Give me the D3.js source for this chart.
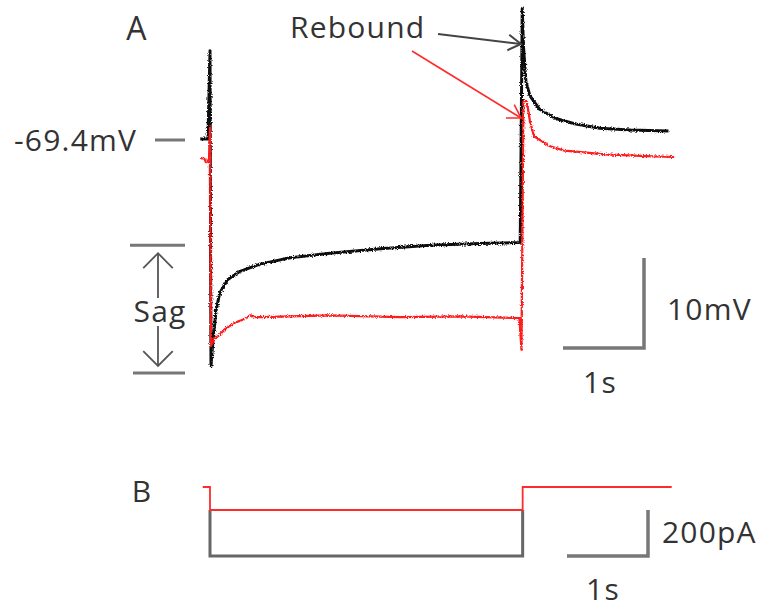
<!DOCTYPE html>
<html><head><meta charset="utf-8">
<script src="https://cdn.jsdelivr.net/npm/d3@7"></script>
<style>html,body{margin:0;padding:0;background:#fff}svg{display:block}</style>
</head><body>
<script>
// ---- Data (time in s relative to step onset, voltage in mV, current in pA) ----
const blackTime = [-0.12,-0.025,0.0,0.012,0.037,0.074,0.12,0.22,0.37,0.62,0.99,1.48,2.1,2.72,3.33,3.83,3.855,3.87,3.9,3.95,4.07,4.26,4.5,4.81,5.19,5.66];
const blackVm   = [-69.4,-69.4,-59.6,-94.6,-91.8,-88.5,-86.5,-85.0,-84.1,-83.3,-82.6,-82.1,-81.6,-81.2,-81.0,-80.9,-54.9,-59.1,-63.0,-64.6,-66.1,-67.1,-67.7,-68.2,-68.4,-68.5];
const redTime   = [-0.12,-0.07,-0.05,-0.03,-0.012,0.0,0.012,0.05,0.1,0.19,0.31,0.43,0.5,0.56,0.62,0.99,1.48,2.35,3.09,3.82,3.845,3.87,3.91,3.95,4.0,4.2,4.38,4.88,5.38,5.73];
const redVm     = [-71.5,-71.6,-72.0,-71.9,-71.6,-68.0,-92.4,-91.6,-91.3,-90.5,-89.8,-89.4,-89.0,-89.2,-89.2,-89.1,-89.0,-89.2,-89.1,-89.3,-92.8,-65.2,-65.2,-67.4,-69.1,-70.2,-70.7,-71.1,-71.3,-71.4];
const redCurTime   = [-0.09,0,0,3.86,3.86,5.7];
const redCurPA     = [0,0,-100,-100,0,0];
const blackCurTime = [0,0,3.86,3.86];
const blackCurPA   = [-100,-300,-300,-100];
const restLabel = "-69.4mV";
const restVm = -69.4;
const sagTopVm = -81.2, sagBottomVm = -95.4;
const scaleLabelsA = ["10mV","1s"];
const scaleLabelsB = ["200pA","1s"];

const W = 770, H = 613;
const svg = d3.select("body").append("svg").attr("width", W).attr("height", H);
const FONT = "'Open Sans', 'Noto Sans', sans-serif";
const TXT = "#333";

const defs = svg.append("defs");
const f = defs.append("filter").attr("id","noise").attr("x","-5%").attr("y","-5%").attr("width","110%").attr("height","110%");
f.append("feTurbulence").attr("type","fractalNoise").attr("baseFrequency","0.9").attr("numOctaves",2).attr("seed",3).attr("result","t");
f.append("feDisplacementMap").attr("in","SourceGraphic").attr("in2","t").attr("scale",3.5).attr("xChannelSelector","R").attr("yChannelSelector","G");

const x = d3.scaleLinear().domain([0, 1]).range([210, 291]);
const yA = d3.scaleLinear().domain([-69.4, -59.4]).range([139, 49]);
const yB = d3.scaleLinear().domain([0, -200]).range([487, 533]);

const lineA = d3.line().x(d => x(d[0])).y(d => yA(d[1]));
const lineB = d3.line().x(d => x(d[0])).y(d => yB(d[1]));

// Panel A traces
svg.append("path").datum(blackTime.map((t,i)=>[t,blackVm[i]]))
  .attr("d", lineA).attr("fill","none").attr("stroke","#111").attr("stroke-width",3)
  .attr("stroke-linejoin","round").attr("filter","url(#noise)");
svg.append("path").datum(redTime.map((t,i)=>[t,redVm[i]]))
  .attr("d", lineA).attr("fill","none").attr("stroke","#ff1a1a").attr("stroke-width",2.2)
  .attr("stroke-linejoin","round").attr("filter","url(#noise)");

// Labels
function txt(s, px, py, size, anchor){ return svg.append("text").text(s).attr("x",px).attr("y",py)
  .attr("font-family",FONT).attr("font-size",size).attr("fill",TXT).attr("letter-spacing","1.2px")
  .attr("text-anchor",anchor||"start"); }
txt("A", 137, 40, 32, "middle");
txt("B", 142, 502, 30, "middle");
txt(restLabel, 14, 151, 30);
svg.append("line").attr("x1",155).attr("x2",185).attr("y1",yA(restVm)+1).attr("y2",yA(restVm)+1).attr("stroke","#777").attr("stroke-width",3);

// Rebound label and arrows
function arrow(x1,y1,x2,y2,color,w,L,s){
  L = L||15; s = s||0.55;
  svg.append("line").attr("x1",x1).attr("y1",y1).attr("x2",x2).attr("y2",y2).attr("stroke",color).attr("stroke-width",w);
  const a = Math.atan2(y2-y1,x2-x1);
  const p = [[x2-L*Math.cos(a-s), y2-L*Math.sin(a-s)],[x2,y2],[x2-L*Math.cos(a+s), y2-L*Math.sin(a+s)]];
  svg.append("path").attr("d", d3.line()(p)).attr("fill","none").attr("stroke",color).attr("stroke-width",w);
}
txt("Rebound", 290, 38, 30);
arrow(438, 34, 521, 44, "#444", 2);
arrow(412, 51, 521, 118, "#ff2a2a", 1.6);

// Sag annotation
svg.append("line").attr("x1",130).attr("x2",185).attr("y1",yA(sagTopVm)).attr("y2",yA(sagTopVm)).attr("stroke","#777").attr("stroke-width",3);
svg.append("line").attr("x1",133).attr("x2",185).attr("y1",yA(sagBottomVm)).attr("y2",yA(sagBottomVm)).attr("stroke","#777").attr("stroke-width",3);
arrow(158, 298, 158, yA(sagTopVm)+8, "#555", 1.8, 21, 0.78);
arrow(158, 326, 158, yA(sagBottomVm)-7, "#555", 1.8, 21, 0.78);
txt("Sag", 160, 322, 30, "middle");

// Scale bar A
{
  const xr = 644, yb = 348, yt = yb - (yA(-69.4) - yA(-59.4)), xl = xr - (x(1) - x(0));
  svg.append("path").attr("d", d3.line()([[xl,yb],[xr,yb],[xr,yt]])).attr("fill","none").attr("stroke","#777").attr("stroke-width",3.5);
  txt(scaleLabelsA[0], 667, 320, 30);
  txt(scaleLabelsA[1], 600, 393, 30, "middle");
}

// Panel B traces
svg.append("path").datum(blackCurTime.map((t,i)=>[t,blackCurPA[i]]))
  .attr("d", lineB).attr("fill","none").attr("stroke","#666").attr("stroke-width",3);
svg.append("path").datum(redCurTime.map((t,i)=>[t,redCurPA[i]]))
  .attr("d", lineB).attr("fill","none").attr("stroke","#ff2a2a").attr("stroke-width",1.8);

// Scale bar B
{
  const xr = 648, yb = 556, yt = yb - (yB(-200) - yB(0)), xl = xr - (x(1) - x(0));
  svg.append("path").attr("d", d3.line()([[xl,yb],[xr,yb],[xr,yt]])).attr("fill","none").attr("stroke","#777").attr("stroke-width",3.5);
  txt(scaleLabelsB[0], 662, 543, 30);
  txt(scaleLabelsB[1], 603, 600, 30, "middle");
}
</script>
</body></html>
